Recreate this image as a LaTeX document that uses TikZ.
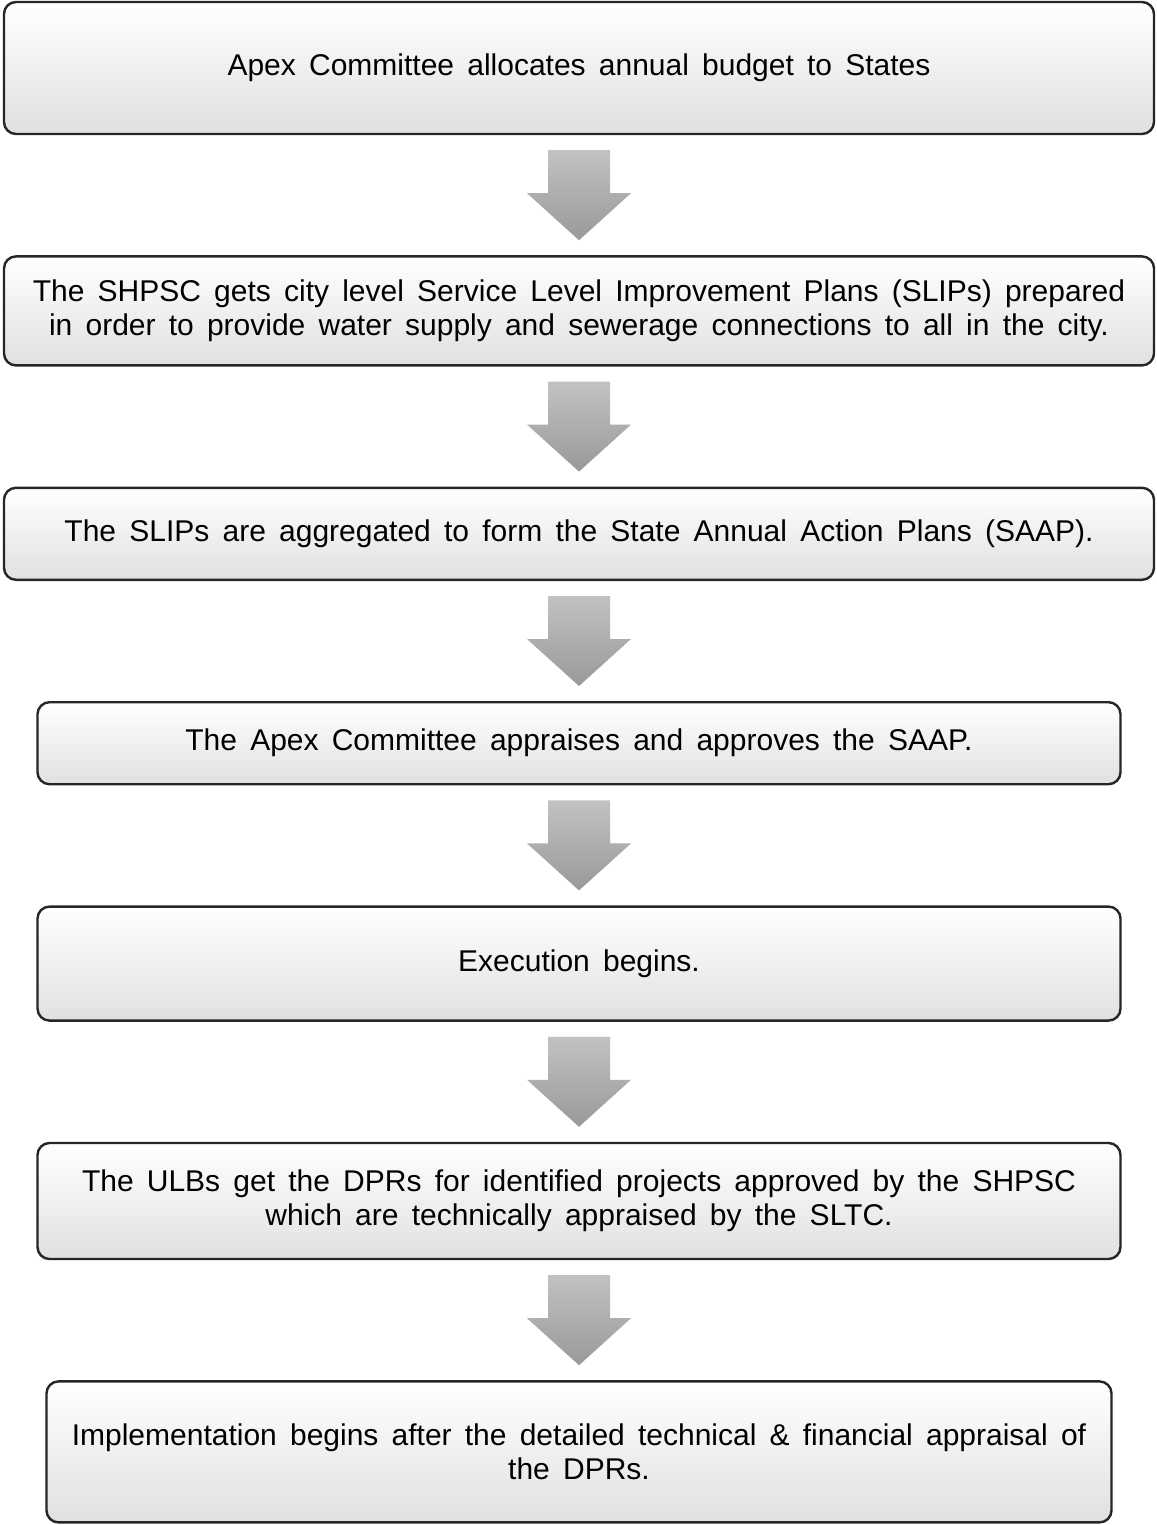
\documentclass[tikz,border=0pt]{standalone}
\usepackage{fontspec}
\setmainfont{Liberation Sans}
\usetikzlibrary{positioning, calc}

\newcommand{\boxfont}{\fontsize{15}{17}\selectfont\spaceskip=6.6pt plus 1pt minus 1pt\relax}
\newcommand{\flowarrow}[2]{%
  \coordinate (m) at ($(#1.south)!0.5!(#2.north)$);
  \path[top color=black!24, bottom color=black!40]
    ($(m)+(-31,-45)$) -- ($(m)+(31,-45)$) -- ($(m)+(31,-2)$) -- ($(m)+(52,-2)$)
    -- ($(m)+(0,45)$) -- ($(m)+(-52,-2)$) -- ($(m)+(-31,-2)$) -- cycle;}

\begin{document}
\begin{tikzpicture}[x=0.5pt, y=-0.5pt, node distance=60pt,
  block/.style={rectangle, rounded corners=6pt, draw=black!85, line width=1.2pt,
    top color=white, middle color=white, bottom color=black!12, align=center, inner sep=0pt,
    font=\boxfont}]
\path[use as bounding box, fill=white] (0,0) rectangle (1156,1525);

\node (b1) [block, minimum width=575pt, minimum height=66pt] at (579,68) {Apex Committee allocates annual budget to States};
\node (b2) [block, minimum width=575pt, minimum height=54.5pt, below=of b1] {The SHPSC gets city level Service Level Improvement Plans (SLIPs) prepared\\ in order to provide water supply and sewerage connections to all in the city.};
\node (b3) [block, minimum width=575pt, minimum height=46pt, below=of b2] {The SLIPs are aggregated to form the State Annual Action Plans (SAAP).};
\node (b4) [block, minimum width=541.5pt, minimum height=41pt, below=of b3] {The Apex Committee appraises and approves the SAAP.};
\node (b5) [block, minimum width=541.5pt, minimum height=57pt, below=of b4] {Execution begins.};
\node (b6) [block, minimum width=541.5pt, minimum height=58pt, below=of b5] {The ULBs get the DPRs for identified projects approved by the SHPSC\\ which are technically appraised by the SLTC.};
\node (b7) [block, minimum width=532.5pt, minimum height=70.5pt, below=of b6] {Implementation begins after the detailed technical \& financial appraisal of\\ the DPRs.};

\flowarrow{b1}{b2}
\flowarrow{b2}{b3}
\flowarrow{b3}{b4}
\flowarrow{b4}{b5}
\flowarrow{b5}{b6}
\flowarrow{b6}{b7}
\end{tikzpicture}
\end{document}
